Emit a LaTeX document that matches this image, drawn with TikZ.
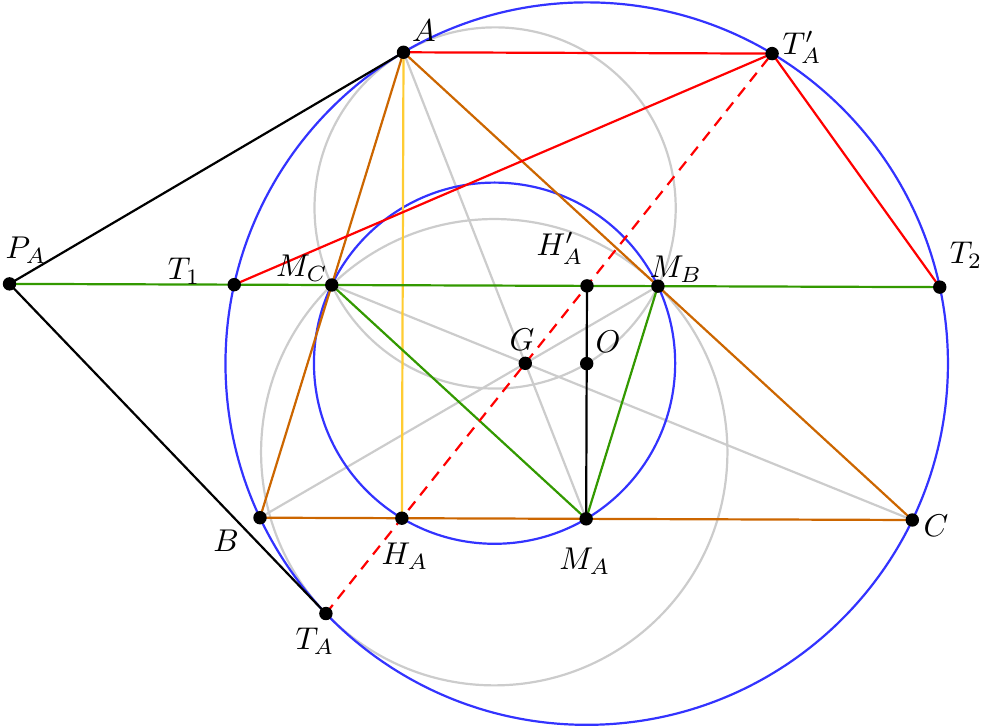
\documentclass[tikz,border=0pt]{standalone}
\usetikzlibrary{calc}
\definecolor{triorange}{RGB}{204,102,0}
\definecolor{altyellow}{RGB}{255,204,51}
\definecolor{midgreen}{RGB}{51,153,0}
\definecolor{circblue}{RGB}{51,51,255}
\definecolor{lgray}{RGB}{204,204,204}
\begin{document}
\begin{tikzpicture}[x=0.3175pt,y=-0.3175pt,line width=0.7pt,
  dot/.style={fill=black},
  lbl/.style={inner sep=0pt},
  graycirc/.style={draw=lgray},
  graymed/.style={draw=lgray},
  bluecirc/.style={draw=circblue},
  triside/.style={draw=triorange},
  altline/.style={draw=altyellow},
  greenline/.style={draw=midgreen},
  redline/.style={draw=red},
  reddash/.style={draw=red,dash pattern=on 3.5pt off 2.5pt},
  blackline/.style={draw=black}]
\useasboundingbox (0,0) rectangle (982,727);
% points
\coordinate (A) at (403.5,52.3);
\coordinate (B) at (260,517.7);
\coordinate (C) at (912.3,520);
\coordinate (MA) at (586.15,518.85);
\coordinate (MB) at (657.9,286.15);
\coordinate (MC) at (331.75,285);
\coordinate (G) at (525.27,363.33);
\coordinate (O) at (586.70,363.61);
\coordinate (HA) at (401.86,518.2);
\coordinate (HpA) at (586.97,285.9);
\coordinate (TpA) at (772.09,53.59);
\coordinate (TA) at (325.9,613.53);
\coordinate (PA) at (9.5,283.88);
\coordinate (T1) at (234.22,284.66);
\coordinate (T2) at (939.74,287.14);
\coordinate (N) at (494.55,363.2);
\coordinate (Ka) at (495.1,207.96);
\coordinate (Kb) at (494.24,452.21);
% gray construction
\path[graycirc] (Ka) circle[radius=57.34pt];
\path[graycirc] (Kb) circle[radius=74.03pt];
\path[graymed] (A) -- (MA);
\path[graymed] (B) -- (MB);
\path[graymed] (C) -- (MC);
% blue circles
\path[bluecirc] (O) circle[radius=114.69pt];
\path[bluecirc] (N) circle[radius=57.34pt];
% triangle
\path[triside] (A) -- (B) -- (C) -- cycle;
\path[altline] (A) -- (HA);
% green
\path[greenline] (PA) -- (T2);
\path[greenline] (MC) -- (MA) -- (MB);
% red
\path[redline] (A) -- (TpA);
\path[redline] (T1) -- (TpA) -- (T2);
\path[reddash] (TA) -- (TpA);
% black
\path[blackline] (PA) -- (A);
\path[blackline] (PA) -- (TA);
\path[blackline] (HpA) -- (MA);
% dots
\foreach \p in {A,B,C,MA,MB,MC,G,O,HA,HpA,TpA,TA,PA,T1,T2}
  \fill[dot] (\p) circle (2.13pt);
% labels
\node[lbl] (lA) at ($(A)+(20.5,-21.3)$) {$A$};
\node[lbl] (lTpA) at ($(TpA)+(30,-6.6)$) {$T'_A$};
\node[lbl] (lPA) at ($(PA)+(16.5,-33.9)$) {$P_A$};
\node[lbl] (lT1) at ($(T1)+(-50.2,-13.7)$) {$T_1$};
\node[lbl] (lMC) at ($(MC)+(-29.8,-17)$) {$M_C$};
\node[lbl] (lHpA) at ($(HpA)+(-27,-37.9)$) {$H'_A$};
\node[lbl] (lMB) at ($(MB)+(18.1,-17.2)$) {$M_B$};
\node[lbl] (lT2) at ($(T2)+(26.3,-32.1)$) {$T_2$};
\node[lbl] (lG) at ($(G)+(-3.3,-23.3)$) {$G$};
\node[lbl] (lO) at ($(O)+(21.3,-21.6)$) {$O$};
\node[lbl] (lB) at ($(B)+(-34,23.3)$) {$B$};
\node[lbl] (lC) at ($(C)+(23.7,6)$) {$C$};
\node[lbl] (lHA) at ($(HA)+(3.1,37.8)$) {$H_A$};
\node[lbl] (lMA) at ($(MA)+(-1.2,42.2)$) {$M_A$};
\node[lbl] (lTA) at ($(TA)+(-10.9,27.5)$) {$T_A$};
\end{tikzpicture}
\end{document}
